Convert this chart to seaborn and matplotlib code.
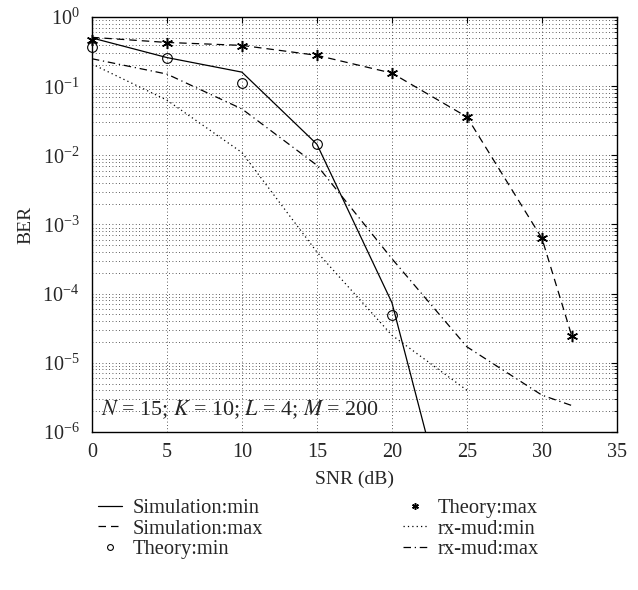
import numpy as np
import pandas as pd
import matplotlib
matplotlib.use("Agg")
import matplotlib.pyplot as plt
import seaborn as sns
from matplotlib.ticker import LogLocator, LogFormatterMathtext, NullFormatter

sns.set_style("white")
plt.rcParams['font.family'] = ['Liberation Serif', 'DejaVu Serif']
plt.rcParams['mathtext.fontset'] = 'stix'

# data
snr = [0, 5, 10, 15, 20, 25, 30, 32]
sim_min_x = [0, 5, 10, 15, 20, 25]
sim_min = [0.50, 0.26, 0.16, 0.0145, 7.4e-5, 5e-9]
sim_max = [0.51, 0.43, 0.39, 0.28, 0.155, 0.036, 6.3e-4, 2.4e-5]
theory_min_x = [0, 5, 10, 15, 20]
theory_min = [0.37, 0.26, 0.11, 0.0145, 4.9e-5]
theory_max = [0.47, 0.42, 0.38, 0.28, 0.155, 0.036, 6.3e-4, 2.4e-5]
mud_min_x = [0, 5, 10, 15, 20, 25]
mud_min = [0.21, 0.063, 0.011, 4.0e-4, 2.5e-5, 4.0e-6]
mud_max = [0.25, 0.15, 0.047, 0.0072, 3.2e-4, 1.7e-5, 3.4e-6, 2.4e-6]

fig = plt.figure(figsize=(6.38, 5.9), dpi=100)
ax = fig.add_axes([0.144, 0.268, 0.823, 0.703])

lw = 0.9
sns.lineplot(x=sim_min_x, y=sim_min, ax=ax, color='k', lw=lw,
             label='Simulation:min')
sns.lineplot(x=snr, y=sim_max, ax=ax, color='k', lw=lw,
             label='Simulation:max').lines[-1].set_dashes([6, 4])
sns.lineplot(x=theory_min_x, y=theory_min, ax=ax, color='k', marker='o',
             markersize=7, markerfacecolor='none', markeredgecolor='k',
             markeredgewidth=0.8, linestyle='none', label='Theory:min',
             clip_on=False)
sns.lineplot(x=snr, y=theory_max, ax=ax, color='k', marker=(6, 2, 0),
             markersize=8, markeredgecolor='k', markeredgewidth=1.1,
             linestyle='none', label='Theory:max', clip_on=False)
sns.lineplot(x=mud_min_x, y=mud_min, ax=ax, color='k', lw=lw,
             label='rx-mud:min').lines[-1].set_dashes([1, 2.5])
sns.lineplot(x=snr, y=mud_max, ax=ax, color='k', lw=lw,
             label='rx-mud:max').lines[-1].set_dashes([6, 3, 1, 3])

ax.set_yscale('log')
ax.set_xlim(0, 35)
ax.set_ylim(1e-6, 1)
ax.set_xticks(range(0, 36, 5))
ax.yaxis.set_major_locator(LogLocator(base=10, numticks=10))
ax.yaxis.set_major_formatter(LogFormatterMathtext())
ax.yaxis.set_minor_locator(LogLocator(base=10, subs=np.arange(2, 10), numticks=20))
ax.yaxis.set_minor_formatter(NullFormatter())

grid_kw = dict(color='0.15', linestyle=(0, (1, 3)), linewidth=0.6)
ax.grid(True, which='major', axis='both', **grid_kw)
ax.grid(True, which='minor', axis='y', **grid_kw)

ax.tick_params(which='both', direction='in', top=True, right=True,
               labelsize=14.5, color='k')
ax.tick_params(which='major', length=4)
ax.tick_params(axis='y', which='major', pad=9)
ax.tick_params(axis='x', which='major', pad=8)
ax.tick_params(which='minor', length=2)
for s in ax.spines.values():
    s.set_color('k')
    s.set_linewidth(1.0)

ax.set_xlabel('SNR (dB)', fontsize=14, labelpad=6)
ax.set_ylabel('BER', fontsize=14, labelpad=6)

ax.text(0.6, 2.1e-6, r'$N$ = 15; $K$ = 10; $L$ = 4; $M$ = 200', fontsize=15.8,
        va='center', ha='left')

handles, labels = ax.get_legend_handles_labels()
ax.legend_.remove()
fig.legend(handles, labels, loc='upper left', bbox_to_anchor=(0.124, 0.186),
           ncol=2, frameon=False, fontsize=14.8, handlelength=1.2,
           handletextpad=0.5, columnspacing=6.8, labelspacing=0.05,
           markerscale=0.6)

fig.savefig('out.png', dpi=100)
